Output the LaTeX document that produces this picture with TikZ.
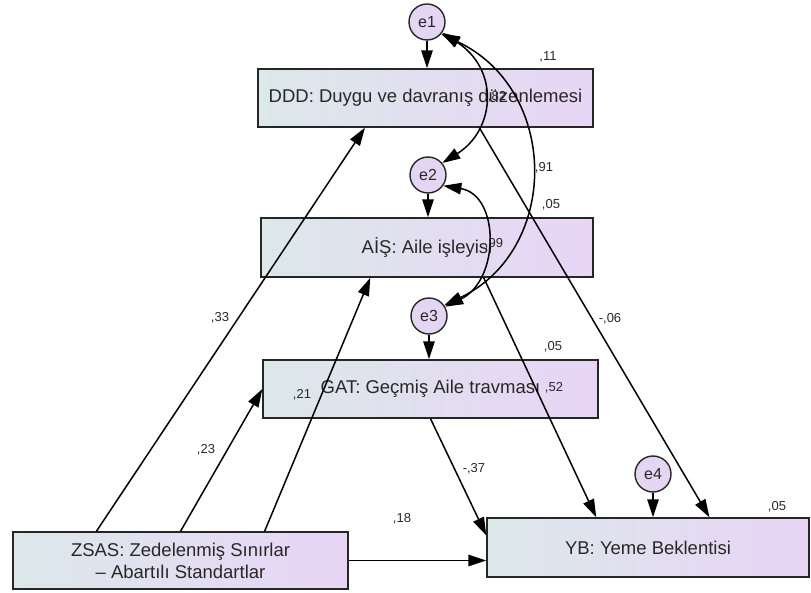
\documentclass[tikz,border=0pt]{standalone}
\usepackage{fontspec}
\setmainfont{Liberation Sans}
\usetikzlibrary{arrows.meta,calc}

\definecolor{boxleft}{RGB}{220,232,234}
\definecolor{boxright}{RGB}{232,213,246}
\definecolor{errfill}{RGB}{228,214,242}
\definecolor{inktext}{RGB}{40,40,40}

\tikzset{
  varbox/.style={draw=black!85, line width=1.4pt, left color=boxleft, right color=boxright,
    text=inktext, inner sep=0pt, align=center,
    font=\fontsize{18.5}{22}\selectfont},
  errnode/.style={circle, draw=black!85, line width=1.4pt, fill=errfill, minimum size=36pt,
    inner sep=0pt, text=inktext, font=\fontsize{16}{18}\selectfont},
  coef/.style={text=inktext, inner sep=0pt, font=\fontsize{13}{15}\selectfont},
  tip/.tip={Triangle[length=18pt,width=11.5pt]},
  path/.style={line width=1.5pt, -tip},
  cov/.style={line width=1.5pt, tip-tip}
}

\begin{document}
\begin{tikzpicture}[x=1pt, y=-1pt]
\useasboundingbox (0,0) rectangle (811,593);

% observed variables
\node[varbox, minimum width=335pt, minimum height=58pt] (DDD) at (425.5,98) {DDD: Duygu ve davranış düzenlemesi};
\node[varbox, minimum width=332pt, minimum height=59pt] (AIS) at (427,247.5) {AİŞ: Aile işleyisi};
\node[varbox, minimum width=335pt, minimum height=58pt] (GAT) at (430.5,389) {GAT: Geçmiş Aile travması};
\node[varbox, minimum width=335pt, minimum height=57pt] (ZSAS) at (180.5,560.5) {ZSAS: Zedelenmiş Sınırlar\\– Abartılı Standartlar};
\node[varbox, minimum width=322pt, minimum height=59pt] (YB) at (648,547.5) {YB: Yeme Beklentisi};

% error terms
\node[errnode] (e1) at (427,22) {e1};
\node[errnode] (e2) at (428,175) {e2};
\node[errnode] (e3) at (429,316) {e3};
\node[errnode] (e4) at (653,474) {e4};

% error paths
\draw[path] (e1.south) -- (e1.south |- DDD.north);
\draw[path] (e2.south) -- (e2.south |- AIS.north);
\draw[path] (e3.south) -- (e3.south |- GAT.north);
\draw[path] (e4.south) -- (e4.south |- YB.north);

% structural paths
\draw[path] ($(ZSAS.north west)!0.25!(ZSAS.north east)$) -- ($(DDD.south west)!0.32!(DDD.south east)$);
\draw[path] ($(ZSAS.north west)!0.5!(ZSAS.north east)$) -- (GAT.west);
\draw[path] ($(ZSAS.north west)!0.75!(ZSAS.north east)$) -- ($(AIS.south west)!0.33!(AIS.south east)$);
\draw[path] (ZSAS.east) -- (ZSAS.east -| YB.west);
\draw[path] (GAT.south) -- ($(YB.north west)!0.3!(YB.south west)$);
\draw[path] ($(AIS.south west)!0.67!(AIS.south east)$) -- ($(YB.north west)!0.34!(YB.north east)$);
\draw[path] ($(DDD.south west)!0.66!(DDD.south east)$) -- ($(YB.north west)!0.69!(YB.north east)$);

% error covariances
\draw[cov] (e1.-35) .. controls (500,70) and (495,130) .. (e2.40);
\draw[cov] (e1.-40) .. controls (560,90) and (560,250) .. (e3.35);
\draw[cov] (e2.-35) .. controls (500,195) and (500,280) .. (e3.30);

% estimates
\node[coef] (r1) at (548,57) {,11};
\node[coef] (c12) at (497,97) {,82};
\node[coef] (c13) at (544,168) {,91};
\node[coef] (r2) at (551,205) {,05};
\node[coef] (c23) at (494,244) {,99};
\node[coef] (b1) at (220,318) {,33};
\node[coef] (b7) at (610,319) {-,06};
\node[coef] (r3) at (553,347) {,05};
\node[coef] (b3) at (302,395) {,21};
\node[coef] (b6) at (554,388) {,52};
\node[coef] (b2) at (206,450) {,23};
\node[coef] (b5) at (474,469) {-,37};
\node[coef] (r4) at (777,507) {,05};
\node[coef] (b4) at (402,519) {,18};
\end{tikzpicture}
\end{document}
